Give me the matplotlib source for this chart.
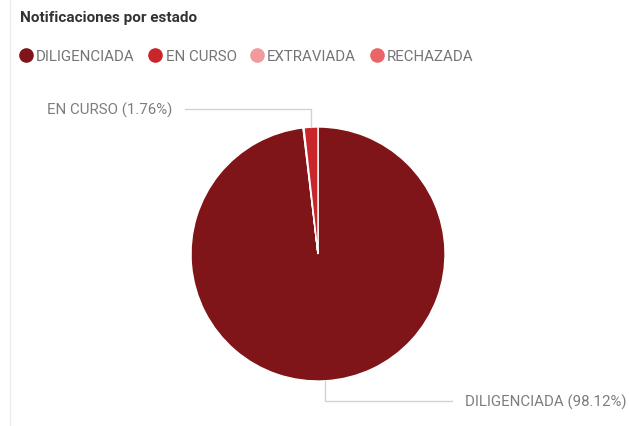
import numpy as np
import matplotlib
matplotlib.use('Agg')
import matplotlib.pyplot as plt
from matplotlib.lines import Line2D

# data
labels = ['DILIGENCIADA', 'EN CURSO', 'EXTRAVIADA', 'RECHAZADA']
values = [98.12, 1.76, 0.07, 0.05]
colors = ['#7f1518', '#c9262a', '#f19a9c', '#ea6468']
# drawing order around the pie (clockwise from 12 o'clock)
pie_order = ['DILIGENCIADA', 'EXTRAVIADA', 'RECHAZADA', 'EN CURSO']
labelled = ['EN CURSO', 'DILIGENCIADA']

plt.rcParams['font.family'] = ['Roboto', 'DejaVu Sans']

W, H = 629, 427
fig = plt.figure(figsize=(W / 100, H / 100), dpi=100)
fig.patch.set_facecolor('white')

# card border on the left
fig.add_artist(Line2D([10 / W, 10 / W], [0, 1], color='#ececec', lw=1))

fig.text(20 / W, 1 - 18 / H, 'Notificaciones por estado', fontsize=11,
         fontweight='bold', color='#333333', va='center', ha='left')

# legend
handles = [Line2D([], [], marker='o', ls='', markersize=9.5, color=c) for c in colors]
fig.legend(handles, labels, loc='center left', bbox_to_anchor=(12 / W, 1 - 57 / H),
           ncol=4, frameon=False, fontsize=10.8, handlelength=0.8, handletextpad=0.3,
           columnspacing=0.95, labelcolor='#757575', borderpad=0)

# pie
cx, cy, r = 318, 255, 127
ax = fig.add_axes([(cx - r) / W, (H - cy - r) / H, 2 * r / W, 2 * r / H])
vals = [values[labels.index(n)] for n in pie_order]
cols = [colors[labels.index(n)] for n in pie_order]
wedges, _ = ax.pie(vals, colors=cols, startangle=90, counterclock=False,
                   wedgeprops=dict(edgecolor='white', linewidth=1))
ax.set_xlim(-1, 1)
ax.set_ylim(-1, 1)
ax.set_aspect('equal')
ax.axis('off')

total = sum(values)
line_c = '#d2d2d2'
for name in labelled:
    w = wedges[pie_order.index(name)]
    mid = np.deg2rad((w.theta1 + w.theta2) / 2)
    x0, y0 = np.cos(mid), np.sin(mid)
    pct = values[labels.index(name)] / total * 100
    txt = '%s (%.2f%%)' % (name, pct)
    if y0 > 0:
        ye, xe, xt, ha = 1.14, -1.047, -1.15, 'right'
    else:
        ye, xe, xt, ha = -1.157, 1.055, 1.157, 'left'
    ax.plot([x0, x0, xe], [y0, ye, ye], color=line_c, lw=1, clip_on=False)
    ax.text(xt, ye, txt, ha=ha, va='center', fontsize=10.8, color='#7d7d7d')

fig.savefig('out.png', dpi=100, facecolor='white')
